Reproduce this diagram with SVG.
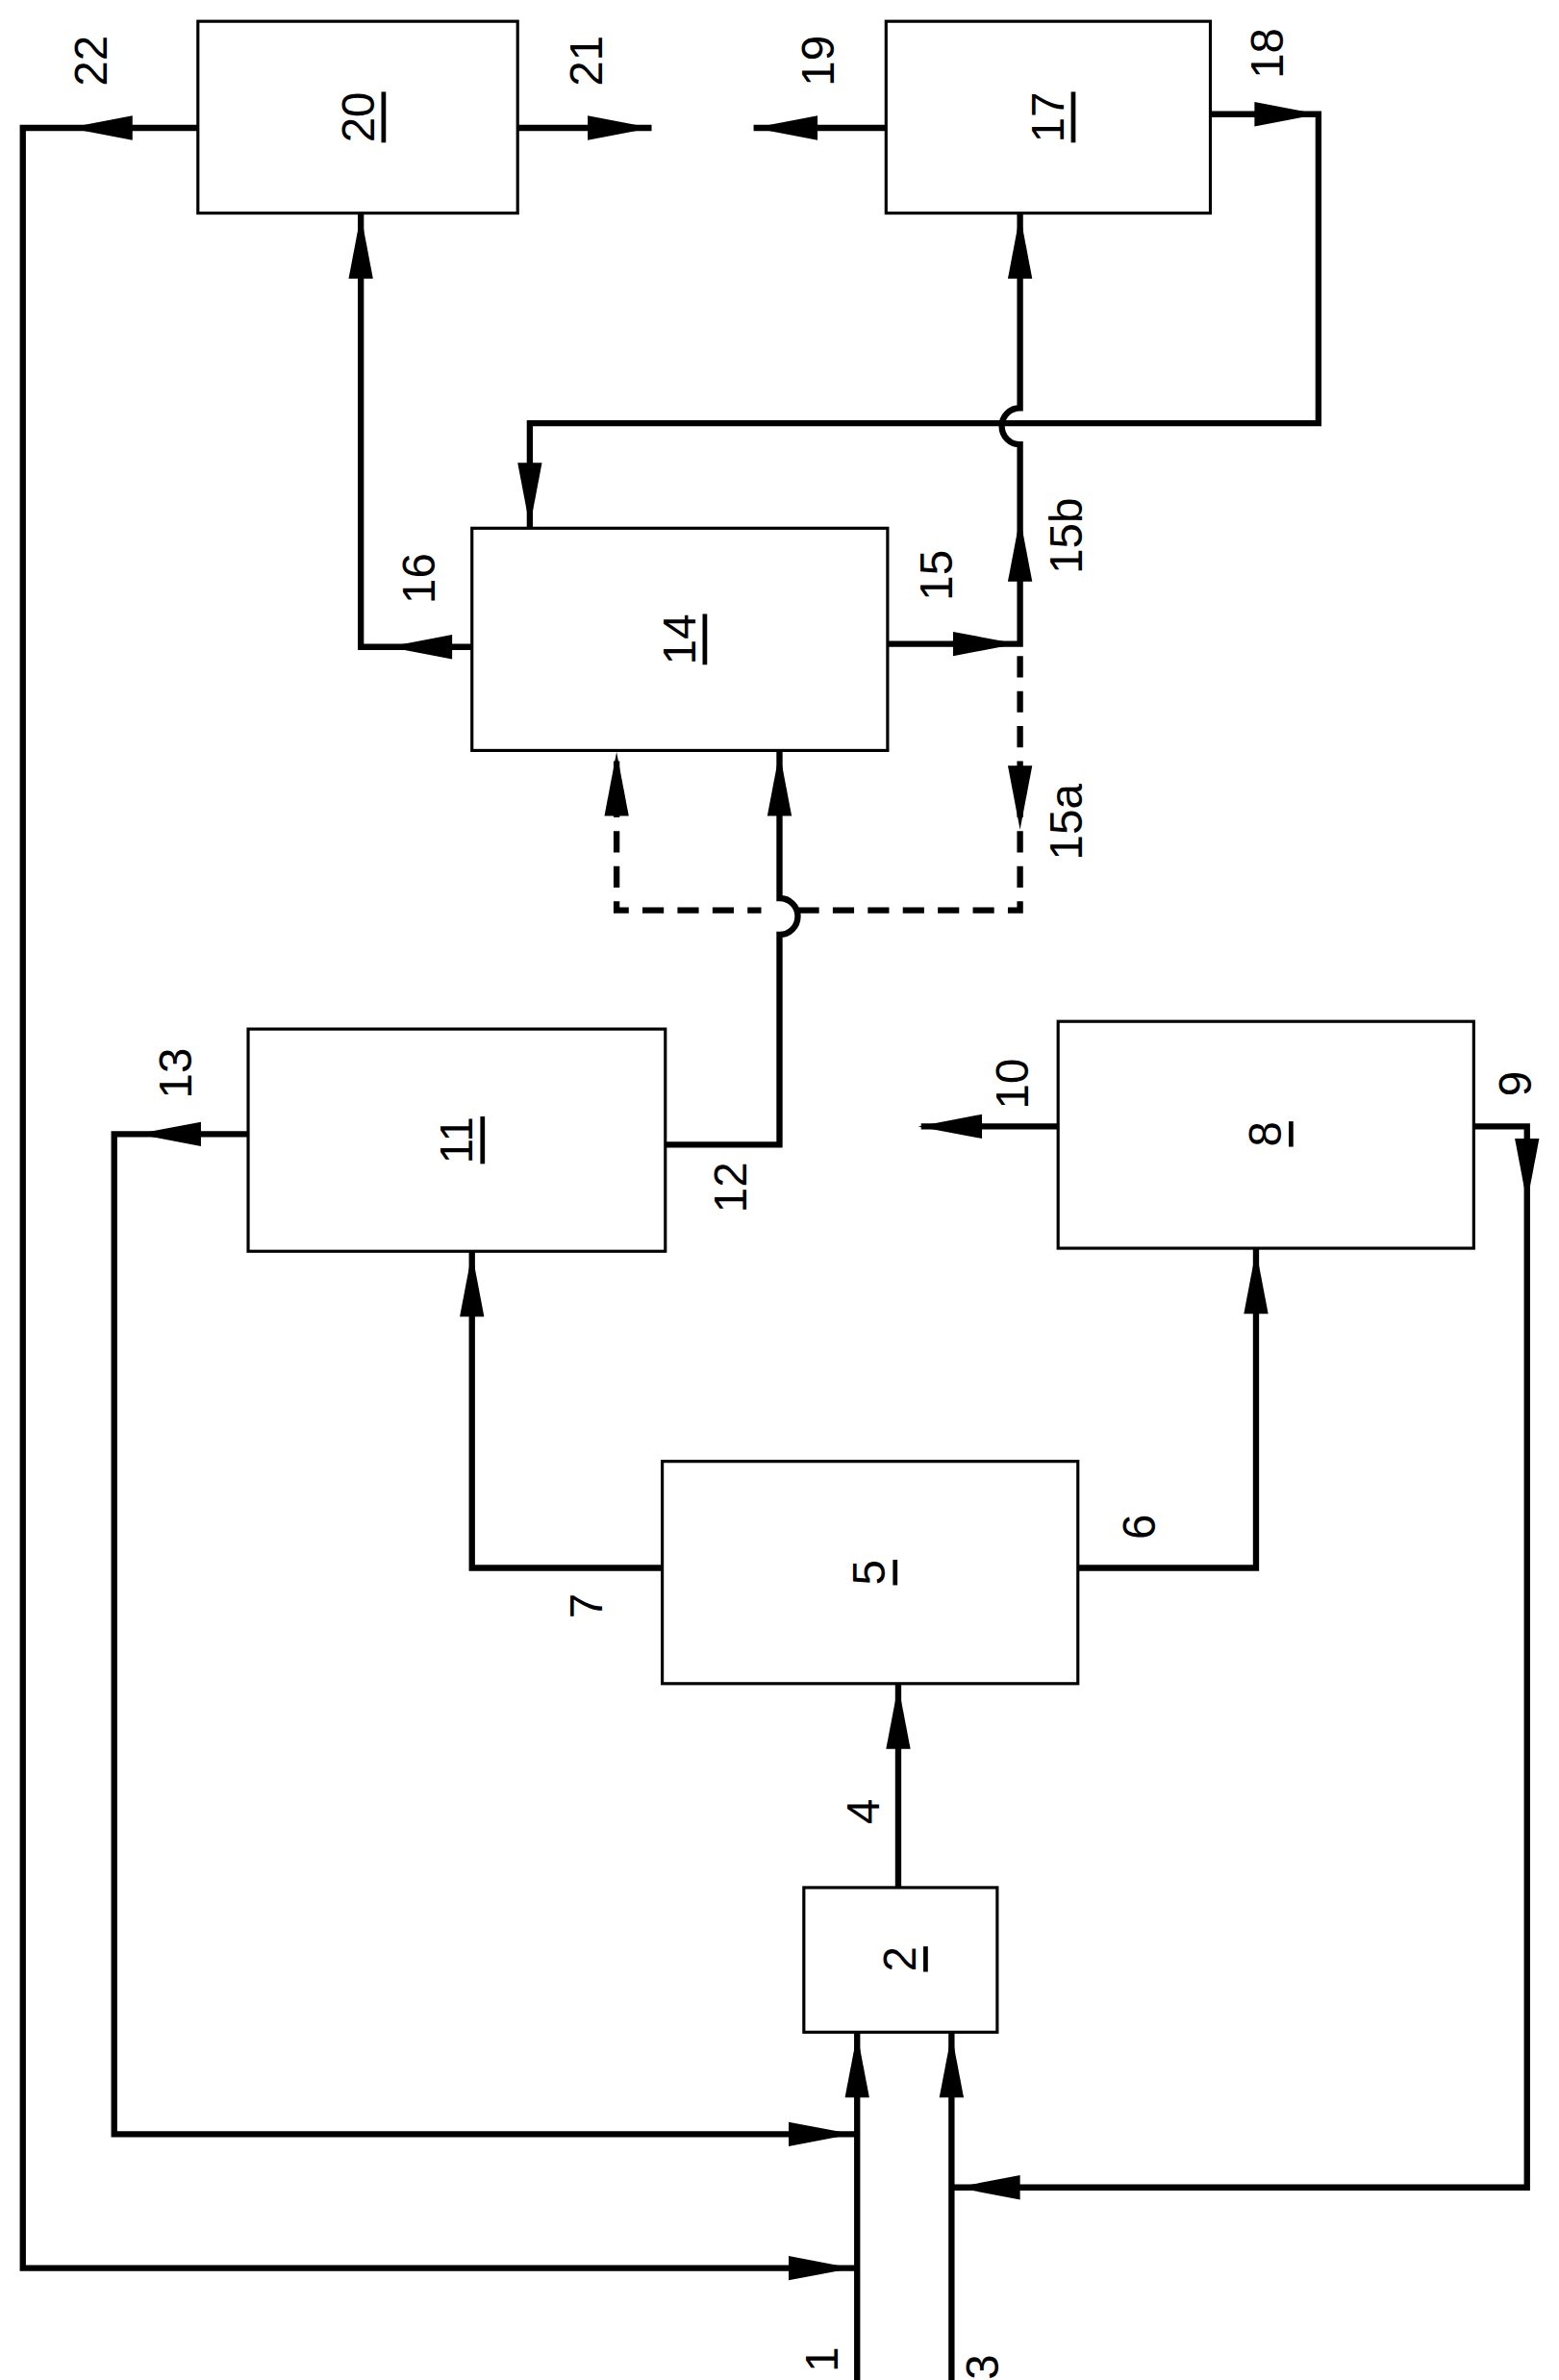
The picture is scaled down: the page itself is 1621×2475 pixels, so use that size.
<svg xmlns="http://www.w3.org/2000/svg" width="1621" height="2475" viewBox="0 0 1621 2475">
<style>
.b{fill:#fff;stroke:#000;stroke-width:2}
.l{fill:none;stroke:#000;stroke-width:4}
.d{fill:none;stroke:#000;stroke-width:4;stroke-dasharray:14 9}
text{font-family:"Liberation Sans",Arial,sans-serif;font-size:30px;fill:#000;text-anchor:middle;dominant-baseline:central}
.u{text-decoration:underline}
</style>
<defs><path id="a" d="M0,0 L-42,-8 L-42,8 Z" fill="#000"/></defs>
<rect width="1621" height="2475" fill="#fff"/>
<g transform="scale(1.583)">
<g id="n20"><rect class="b" x="130" y="14" width="210" height="126"/><text class="u" transform="translate(235,77) rotate(-90)">20</text></g>
<g id="n17"><rect class="b" x="582" y="14" width="213" height="126"/><text class="u" transform="translate(688,77) rotate(-90)">17</text></g>
<g id="n14"><rect class="b" x="310" y="347" width="273" height="146"/><text class="u" transform="translate(446,420) rotate(-90)">14</text></g>
<g id="n11"><rect class="b" x="163" y="676" width="274" height="146"/><text class="u" transform="translate(300,749) rotate(-90)">11</text></g>
<g id="n8"><rect class="b" x="695" y="671" width="273" height="149"/><text class="u" transform="translate(831,745) rotate(-90)">8</text></g>
<g id="n5"><rect class="b" x="435" y="960" width="273" height="146"/><text class="u" transform="translate(571,1033) rotate(-90)">5</text></g>
<g id="n2"><rect class="b" x="528" y="1240" width="127" height="95"/><text class="u" transform="translate(591,1287) rotate(-90)">2</text></g>
<g id="connectors">
<path class="l" d="M563,1580V1335M625,1580V1335"/>
<use href="#a" transform="translate(563,1336) rotate(-90)"/><use href="#a" transform="translate(625,1336) rotate(-90)"/>
<path class="l" d="M130,84H15V1490H563"/>
<use href="#a" transform="translate(45,84) rotate(180)"/><use href="#a" transform="translate(560,1490)"/>
<path class="l" d="M163,745H75V1402H563"/>
<use href="#a" transform="translate(90,745) rotate(180)"/><use href="#a" transform="translate(560,1402)"/>
<path class="l" d="M968,740H1003V1437H625"/>
<use href="#a" transform="translate(1003,790) rotate(90)"/><use href="#a" transform="translate(628,1437) rotate(180)"/>
<path class="l" d="M695,740H605"/><use href="#a" transform="translate(603,740) rotate(180)"/>
<path class="l" d="M590,1240V1106"/><use href="#a" transform="translate(590,1107) rotate(-90)"/>
<path class="l" d="M435,1030H310V822"/><use href="#a" transform="translate(310,823) rotate(-90)"/>
<path class="l" d="M708,1030H825V820"/><use href="#a" transform="translate(825,821) rotate(-90)"/>
<path class="l" d="M437,752H512V614A12,12 0 0 0 512,590V493"/><use href="#a" transform="translate(512,494) rotate(-90)"/>
<path class="d" d="M405,500V598H500M524,598H670V425"/><use href="#a" transform="translate(405,494) rotate(-90)"/>
<use href="#a" transform="translate(670,545) rotate(90)"/>
<path class="l" d="M583,423H670V292A12,12 0 0 1 670,268V140"/>
<use href="#a" transform="translate(668,423)"/><use href="#a" transform="translate(670,340) rotate(-90)"/><use href="#a" transform="translate(670,141) rotate(-90)"/>
<path class="l" d="M795,75H866V278H348V347"/>
<use href="#a" transform="translate(866,75)"/><use href="#a" transform="translate(348,346) rotate(90)"/>
<path class="l" d="M310,425H237V140"/>
<use href="#a" transform="translate(255,425) rotate(180)"/><use href="#a" transform="translate(237,141) rotate(-90)"/>
<path class="l" d="M340,84H428"/><use href="#a" transform="translate(428,84)"/>
<path class="l" d="M582,84H495"/><use href="#a" transform="translate(495,84) rotate(180)"/>
</g>
<g id="labels">
<text transform="translate(60,40) rotate(-90)">22</text>
<text transform="translate(385,40) rotate(-90)">21</text>
<text transform="translate(537,40) rotate(-90)">19</text>
<text transform="translate(832,35) rotate(-90)">18</text>
<text transform="translate(275,380) rotate(-90)">16</text>
<text transform="translate(615,378) rotate(-90)">15</text>
<text transform="translate(700,352) rotate(-90)">15b</text>
<text transform="translate(700,540) rotate(-90)">15a</text>
<text transform="translate(115,705) rotate(-90)">13</text>
<text transform="translate(480,780) rotate(-90)">12</text>
<text transform="translate(665,712) rotate(-90)">10</text>
<text transform="translate(995,712) rotate(-90)">9</text>
<text transform="translate(385,1055) rotate(-90)">7</text>
<text transform="translate(748,1003) rotate(-90)">6</text>
<text transform="translate(567,1190) rotate(-90)">4</text>
<text transform="translate(540,1550) rotate(-90)">1</text>
<text transform="translate(645,1555) rotate(-90)">3</text>
</g>
</g>
</svg>
